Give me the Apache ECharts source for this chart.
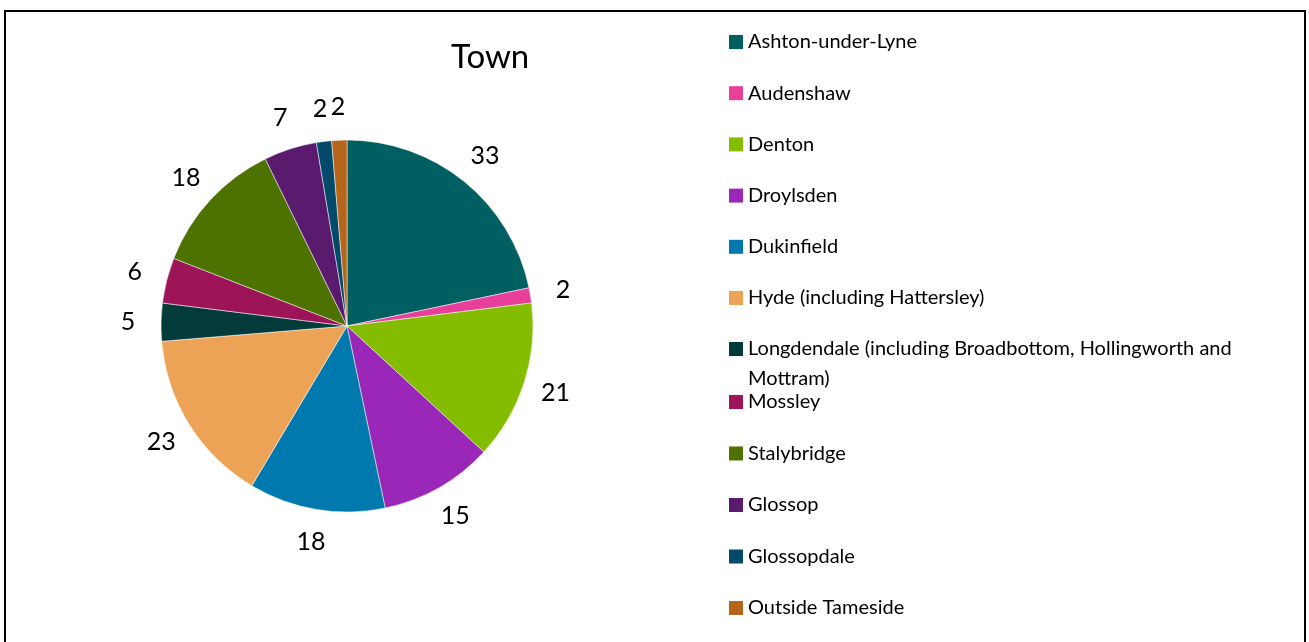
<!DOCTYPE html>
<html>
<head>
<meta charset="utf-8">
<script src="https://cdn.jsdelivr.net/npm/echarts@6/dist/echarts.min.js"></script>
<style>
  html,body{margin:0;padding:0;background:#fff;}
  #main{width:1309px;height:642px;}
</style>
</head>
<body>
<div id="main"></div>
<script>
var towns = ['Ashton-under-Lyne','Audenshaw','Denton','Droylsden','Dukinfield','Hyde (including Hattersley)',
  'Longdendale (including Broadbottom, Hollingworth and Mottram)','Mossley','Stalybridge','Glossop','Glossopdale','Outside Tameside'];
var counts = [33,2,21,15,18,23,5,6,18,7,2,2];
var colors = ['#005f60','#e8409a','#84bd00','#9b27b8','#0079ae','#eda356','#033b3b','#9e1458','#4e7200','#5a1a6e','#02496a','#b5661a'];

var fontName = 'Lato';
var pieData = [];
var labelData = [];
for(var i=0;i<towns.length;i++){
  pieData.push({name: towns[i], value: counts[i], itemStyle: {color: colors[i]}});
  labelData.push({name: towns[i], value: counts[i]});
}

var myChart = echarts.init(document.getElementById('main'));
var legendText = {color:'#000', fontFamily:fontName, fontSize:20, lineHeight:22};
var option = {
  animation: false,
  title: {
    text: 'Town', left: 451, top: 41, padding: 0,
    textStyle: {color:'#000', fontFamily:fontName, fontSize:33, fontWeight:'normal'}
  },
  legend: [
    {
      orient:'vertical', left:729, top:31, padding:0, itemGap:29.2,
      itemWidth:14, itemHeight:14, icon:'rect', itemStyle:{borderWidth:0},
      data: towns.slice(0,6), textStyle: legendText
    },
    {
      // long name wraps; an empty first line keeps the icon level with the first line
      orient:'vertical', left:729, top:304, padding:0,
      itemWidth:14, itemHeight:14, icon:'rect', itemStyle:{borderWidth:0},
      data: towns.slice(6,7),
      formatter: function(name){ return '\n' + name.replace(' Mottram)', '\nMottram)'); },
      textStyle: {color:'#000', fontFamily:fontName, fontSize:20, lineHeight:30}
    },
    {
      orient:'vertical', left:729, top:391, padding:0, itemGap:29.5,
      itemWidth:14, itemHeight:14, icon:'rect', itemStyle:{borderWidth:0},
      data: towns.slice(7), textStyle: legendText
    }
  ],
  graphic: [{
    type:'rect', silent:true,
    shape:{x:5, y:11, width:1300, height:700},
    style:{fill:'none', stroke:'#000', lineWidth:2}
  }],
  series: [
    {
      name:'Town', type:'pie', center:[347,326], radius:[0,186],
      startAngle:90, clockwise:true, avoidLabelOverlap:false,
      data: pieData,
      itemStyle:{borderColor:'#fff', borderWidth:0.5},
      label:{show:false}, labelLine:{show:false}
    },
    {
      name:'Labels', type:'pie', center:[347,326], radius:[186,246],
      startAngle:90, clockwise:true, silent:true, avoidLabelOverlap:false,
      data: labelData,
      itemStyle:{color:'rgba(0,0,0,0)', borderWidth:0},
      label:{show:true, position:'inside', formatter:'{c}', color:'#000',
        fontFamily:fontName, fontSize:25},
      labelLine:{show:false}, emphasis:{disabled:true}
    }
  ]
};
myChart.setOption(option);
</script>
</body>
</html>
